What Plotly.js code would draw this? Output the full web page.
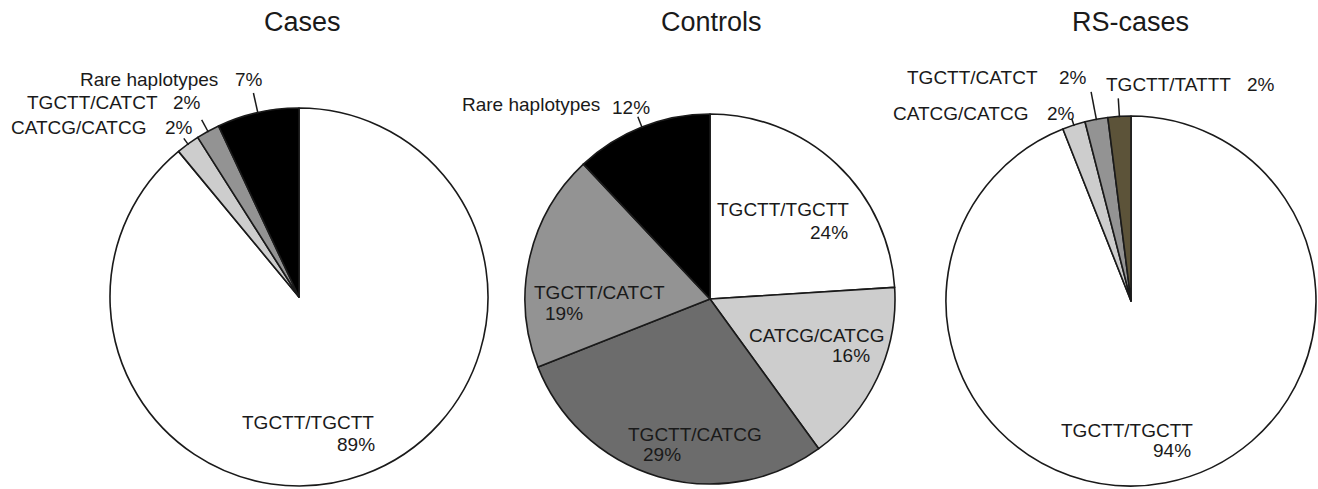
<!DOCTYPE html>
<html>
<head>
<meta charset="utf-8">
<script src="https://cdn.plot.ly/plotly-3.0.1.min.js"></script>
<style>html,body{margin:0;padding:0;background:#fff;}#chart{width:1318px;height:489px;}</style>
</head>
<body>
<div id="chart"></div>
<script>
// ---- data ----
const pieTitles = ['Cases', 'Controls', 'RS-cases'];

const casesLabels = ['TGCTT/TGCTT', 'CATCG/CATCG', 'TGCTT/CATCT', 'Rare haplotypes'];
const casesValues = [89, 2, 2, 7];

const controlsLabels = ['TGCTT/TGCTT', 'CATCG/CATCG', 'TGCTT/CATCG', 'TGCTT/CATCT', 'Rare haplotypes'];
const controlsValues = [24, 16, 29, 19, 12];

const rsLabels = ['TGCTT/TGCTT', 'CATCG/CATCG', 'TGCTT/CATCT', 'TGCTT/TATTT'];
const rsValues = [94, 2, 2, 2];

// ---- styling ----
const colorMap = {
  'TGCTT/TGCTT': '#ffffff',
  'CATCG/CATCG': '#cdcdcd',
  'TGCTT/CATCT': '#939393',
  'TGCTT/CATCG': '#6c6c6c',
  'Rare haplotypes': '#000000',
  'TGCTT/TATTT': '#5c5339'
};

const W = 1318, H = 489;
const px = x => x / W;
const py = y => 1 - y / H;

// pie geometry in pixels
const geo = [
  {cx: 299, cy: 297, r: 189},
  {cx: 710, cy: 299, r: 185},
  {cx: 1131, cy: 301, r: 185}
];
const titlePos = [[302, 22], [712, 22], [1130, 22]];

// label placements (pixels): name [x, y, xanchor], pct [x, y, xanchor], leader length
const place = [
  [
    {name: [376, 422, 'right'], pct: [377, 444, 'right'], lead: 0},
    {name: [148, 128, 'right'], pct: [163, 128, 'left'], lead: 7},
    {name: [160, 102, 'right'], pct: [171, 102, 'left'], lead: 13},
    {name: [220, 80, 'right'], pct: [233, 80, 'left'], lead: 20}
  ],
  [
    {name: [851, 210, 'right'], pct: [850, 232, 'right'], lead: 0},
    {name: [886, 335, 'right'], pct: [872, 355, 'right'], lead: 0},
    {name: [695, 434, 'center'], pct: [662, 454, 'center'], lead: 0},
    {name: [532, 292, 'left'], pct: [543, 313, 'left'], lead: 0},
    {name: [602, 105, 'right'], pct: [610, 107, 'left'], lead: 11}
  ],
  [
    {name: [1195, 430, 'right'], pct: [1193, 450, 'right'], lead: 0},
    {name: [1030, 113, 'right'], pct: [1045, 113, 'left'], lead: 7},
    {name: [1040, 78, 'right'], pct: [1057, 78, 'left'], lead: 28},
    {name: [1233, 84, 'right'], pct: [1245, 84, 'left'], lead: 18}
  ]
];

const pies = [
  {labels: casesLabels, values: casesValues},
  {labels: controlsLabels, values: controlsValues},
  {labels: rsLabels, values: rsValues}
];

const FONT = 'Liberation Sans, Arial, Helvetica, sans-serif';
const TXT = '#1a1a1a';

const traces = [];
const annotations = [];
const shapes = [];

pies.forEach((p, i) => {
  const g = geo[i];
  traces.push({
    type: 'pie',
    labels: p.labels,
    values: p.values,
    sort: false,
    direction: 'clockwise',
    rotation: 0,
    textinfo: 'none',
    hoverinfo: 'label+percent',
    showlegend: false,
    marker: {
      colors: p.labels.map(l => colorMap[l]),
      line: {color: '#1a1a1a', width: 1.6}
    },
    domain: {
      x: [px(g.cx - g.r), px(g.cx + g.r)],
      y: [py(g.cy + g.r), py(g.cy - g.r)]
    }
  });

  annotations.push({
    text: pieTitles[i], xref: 'paper', yref: 'paper',
    x: px(titlePos[i][0]), y: py(titlePos[i][1]),
    xanchor: 'center', yanchor: 'middle', showarrow: false,
    font: {family: FONT, size: 27, color: TXT}
  });

  const total = p.values.reduce((a, b) => a + b, 0);
  let cum = 0;
  p.values.forEach((v, j) => {
    const pl = place[i][j];
    const pct = Math.round(v / total * 100) + '%';
    annotations.push({
      text: p.labels[j], xref: 'paper', yref: 'paper',
      x: px(pl.name[0]), y: py(pl.name[1]),
      xanchor: pl.name[2], yanchor: 'middle', showarrow: false,
      font: {family: FONT, size: 19, color: TXT}
    });
    annotations.push({
      text: pct, xref: 'paper', yref: 'paper',
      x: px(pl.pct[0]), y: py(pl.pct[1]),
      xanchor: pl.pct[2], yanchor: 'middle', showarrow: false,
      font: {family: FONT, size: 19, color: TXT}
    });
    const mid = (cum + v / 2) / total * 2 * Math.PI;
    cum += v;
    if (pl.lead > 0) {
      const r0 = g.r - 1, r1 = g.r + pl.lead;
      shapes.push({
        type: 'line', xref: 'paper', yref: 'paper',
        x0: px(g.cx + r0 * Math.sin(mid)), y0: py(g.cy - r0 * Math.cos(mid)),
        x1: px(g.cx + r1 * Math.sin(mid)), y1: py(g.cy - r1 * Math.cos(mid)),
        line: {color: '#1a1a1a', width: 1.5}
      });
    }
  });
});

const layout = {
  width: W, height: H,
  margin: {l: 0, r: 0, t: 0, b: 0},
  paper_bgcolor: '#ffffff',
  plot_bgcolor: '#ffffff',
  showlegend: false,
  annotations: annotations,
  shapes: shapes
};

Plotly.newPlot('chart', traces, layout, {displayModeBar: false, staticPlot: true});
</script>
</body>
</html>
